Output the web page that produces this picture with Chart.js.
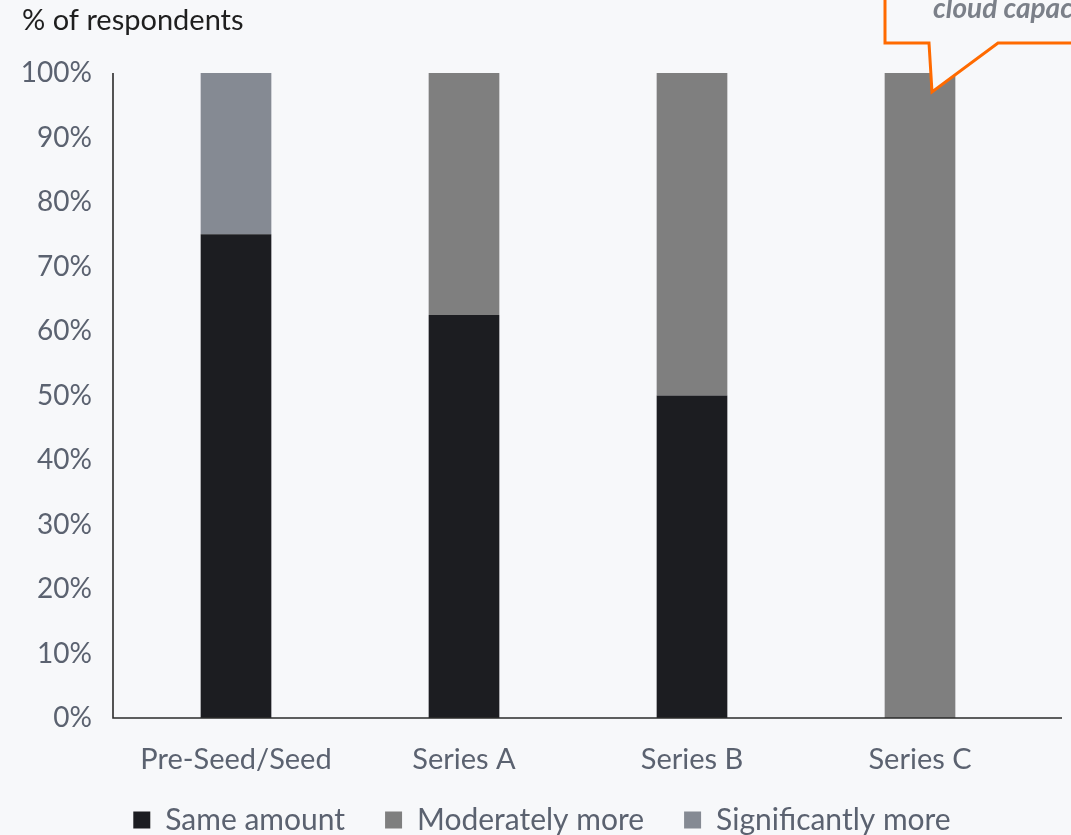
<!DOCTYPE html>
<html>
<head>
<meta charset="utf-8">
<script src="https://cdn.jsdelivr.net/npm/chart.js@4/dist/chart.umd.min.js"></script>
<style>
  html, body { margin: 0; padding: 0; background: #f7f8fa; }
  canvas { display: block; }
</style>
</head>
<body>
<canvas id="stageChart" width="1071" height="835"></canvas>
<script>
// data
var stages = ['Pre-Seed/Seed', 'Series A', 'Series B', 'Series C'];
var sameAmount = [75, 62.5, 50, 0];
var moderatelyMore = [0, 37.5, 50, 100];
var significantlyMore = [25, 0, 0, 0];
var yTicks = [0, 10, 20, 30, 40, 50, 60, 70, 80, 90, 100];

var textGrey = '#5b6270';
var fontFamily = 'Lato, "Open Sans", sans-serif';

// axis lines, y title and the cut-off callout at top right
var extras = {
    id: 'extras',
    beforeDraw: function (chart) {
        var ctx = chart.ctx;
        ctx.save();
        ctx.fillStyle = '#f7f8fa';
        ctx.fillRect(0, 0, chart.width, chart.height);
        ctx.restore();
    },
    afterLayout: function (chart) {
        // nudge the legend to where it sits in the original
        var lg = chart.legend;
        lg.left += 50;
        lg.top += 10;
        lg.bottom += 10;
        // let the x labels spill below the (short) axis box without clipping
        chart.scales.x.bottom = chart.height;
    },
    afterDatasetsDraw: function (chart) {
        var ctx = chart.ctx;
        var area = chart.chartArea;
        var yScale = chart.scales.y;
        var top = yScale.getPixelForValue(100);
        var bottom = yScale.getPixelForValue(0);
        var axisX = area.left - 9;

        ctx.save();
        ctx.strokeStyle = '#2b2b2b';
        ctx.lineWidth = 1.6;
        ctx.beginPath();
        ctx.moveTo(axisX, top);
        ctx.lineTo(axisX, bottom);
        ctx.lineTo(area.right + 28, bottom);
        ctx.stroke();

        // title
        ctx.fillStyle = '#1f1f1f';
        ctx.font = '29px ' + fontFamily;
        ctx.textBaseline = 'middle';
        ctx.fillText('% of respondents', 22, 21);

        // callout
        ctx.beginPath();
        ctx.moveTo(885, -5);
        ctx.lineTo(885, 43);
        ctx.lineTo(929, 43);
        ctx.lineTo(932, 92);
        ctx.lineTo(998, 43);
        ctx.lineTo(1080, 43);
        ctx.lineTo(1080, -5);
        ctx.closePath();
        ctx.fillStyle = '#f7f8fa';
        ctx.fill();
        ctx.strokeStyle = '#ff6a00';
        ctx.lineWidth = 3;
        ctx.lineJoin = 'miter';
        ctx.stroke();

        ctx.fillStyle = '#7b8089';
        ctx.font = 'italic bold 28px ' + fontFamily;
        ctx.textBaseline = 'alphabetic';
        ctx.fillText('cloud capacity', 933, 18);
        ctx.restore();
    }
};

var ctxStage = document.getElementById('stageChart').getContext('2d');
new Chart(ctxStage, {
    type: 'bar',
    data: {
        labels: stages,
        datasets: [{
            label: 'Same amount',
            data: sameAmount,
            backgroundColor: '#1c1d21'
        }, {
            label: 'Moderately more',
            data: moderatelyMore,
            backgroundColor: '#7f7f7f'
        }, {
            label: 'Significantly more',
            data: significantlyMore,
            backgroundColor: '#858a93'
        }]
    },
    options: {
        responsive: false,
        animation: false,
        barPercentage: 0.31,
        categoryPercentage: 1,
        layout: {
            padding: { top: 73, right: 37, left: 0, bottom: 0 }
        },
        plugins: {
            tooltip: { enabled: false },
            legend: {
                position: 'bottom',
                labels: {
                    boxWidth: 17,
                    boxHeight: 17,
                    padding: 40,
                    color: textGrey,
                    font: { family: fontFamily, size: 30 }
                }
            }
        },
        scales: {
            x: {
                stacked: true,
                grid: { display: false, drawTicks: false },
                border: { display: false },
                ticks: {
                    color: textGrey,
                    padding: 24,
                    font: { family: fontFamily, size: 29 }
                },
                afterFit: function (scale) { scale.height = 37; }
            },
            y: {
                stacked: true,
                min: 0,
                max: 100,
                afterBuildTicks: function (scale) {
                    scale.ticks = yTicks.map(function (v) { return { value: v }; });
                },
                grid: { display: false, drawTicks: false },
                border: { display: false },
                ticks: {
                    color: textGrey,
                    padding: 30,
                    font: { family: fontFamily, size: 28 },
                    callback: function (v) { return v + '%'; }
                },
                afterFit: function (scale) { scale.width = 122; }
            }
        }
    },
    plugins: [extras]
});
</script>
</body>
</html>
